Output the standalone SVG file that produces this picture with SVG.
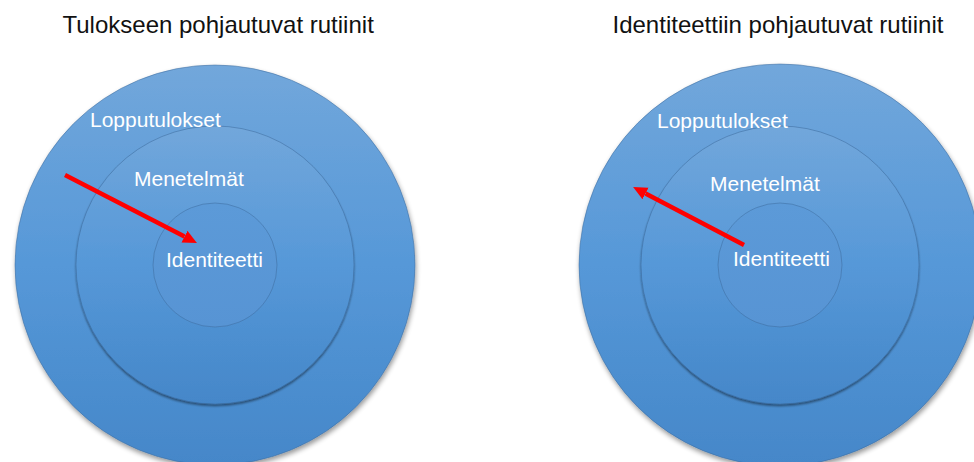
<svg xmlns="http://www.w3.org/2000/svg" width="974" height="462" viewBox="0 0 974 462">
  <style>
    .title { font-family: "Liberation Sans", Arial, sans-serif; font-size: 24px; fill: #111; }
    .label { font-family: "Liberation Sans", Arial, sans-serif; font-size: 21px; fill: #ffffff; }
    .ring { fill: url(#blueFill); stroke: #3c6a9c; stroke-opacity: 0.5; stroke-width: 1; }
    .core { fill: url(#coreFill); }
    .outer { filter: url(#softShadow); }
    .middle { filter: url(#darkShadow); }
    .arrow { stroke: #ff0000; stroke-width: 4.5; fill: none; marker-end: url(#head); }
  </style>
  <defs>
    <linearGradient id="blueFill" x1="0" y1="0" x2="0" y2="1">
      <stop offset="0" stop-color="#72a7db"/>
      <stop offset="0.5" stop-color="#5698d8"/>
      <stop offset="1" stop-color="#4587c9"/>
    </linearGradient>
    <linearGradient id="coreFill" x1="0" y1="0" x2="0" y2="1">
      <stop offset="0" stop-color="#5c9ad8"/>
      <stop offset="1" stop-color="#5794d4"/>
    </linearGradient>
    <filter id="softShadow" x="-10%" y="-10%" width="120%" height="125%">
      <feGaussianBlur in="SourceAlpha" stdDeviation="2.5"/>
      <feOffset dx="1" dy="3" result="b"/>
      <feComponentTransfer><feFuncA type="linear" slope="0.4"/></feComponentTransfer>
      <feMerge><feMergeNode/><feMergeNode in="SourceGraphic"/></feMerge>
    </filter>
    <filter id="darkShadow" x="-10%" y="-10%" width="120%" height="125%">
      <feGaussianBlur in="SourceAlpha" stdDeviation="1.2"/>
      <feOffset dx="0" dy="2" result="b"/>
      <feComponentTransfer><feFuncA type="linear" slope="0.45"/></feComponentTransfer>
      <feMerge><feMergeNode/><feMergeNode in="SourceGraphic"/></feMerge>
    </filter>
    <marker id="head" markerUnits="userSpaceOnUse" viewBox="0 -7 15 14" refX="0" refY="0" markerWidth="15" markerHeight="14" orient="auto">
      <path d="M0,-6.5 L14,0 L0,6.5 z" fill="#ff0000"/>
    </marker>
  </defs>

  <!-- Titles -->
  <text class="title" x="62.5" y="33">Tulokseen pohjautuvat rutiinit</text>
  <text class="title" x="612.5" y="33">Identiteettiin pohjautuvat rutiinit</text>

  <!-- Left diagram: outcome-based routines (rings) -->
  <g id="left-outcomes">
    <circle class="ring outer" cx="215" cy="265" r="200"/>
  </g>
  <g id="left-methods">
    <circle class="ring middle" cx="215" cy="265" r="139"/>
  </g>
  <g id="left-identity">
    <circle class="ring core" cx="215" cy="265" r="62"/>
  </g>

  <!-- Right diagram: identity-based routines (rings) -->
  <g id="right-outcomes">
    <circle class="ring outer" cx="780" cy="265" r="201"/>
  </g>
  <g id="right-methods">
    <circle class="ring middle" cx="780" cy="265" r="139"/>
  </g>
  <g id="right-identity">
    <circle class="ring core" cx="780" cy="265" r="62"/>
  </g>

  <!-- Ring labels, drawn above all rings -->
  <g id="left-labels">
    <text class="label" x="90" y="127">Lopputulokset</text>
    <text class="label" x="134" y="186">Menetelmät</text>
    <text class="label" x="166" y="267">Identiteetti</text>
  </g>
  <g id="right-labels">
    <text class="label" x="657" y="128">Lopputulokset</text>
    <text class="label" x="710" y="191">Menetelmät</text>
    <text class="label" x="733" y="266">Identiteetti</text>
  </g>

  <!-- Direction arrows -->
  <g id="connectors">
    <line class="arrow" x1="65" y1="175" x2="184.5" y2="236.6"/>
    <line class="arrow" x1="744" y1="245" x2="645.5" y2="193.5"/>
  </g>
</svg>
